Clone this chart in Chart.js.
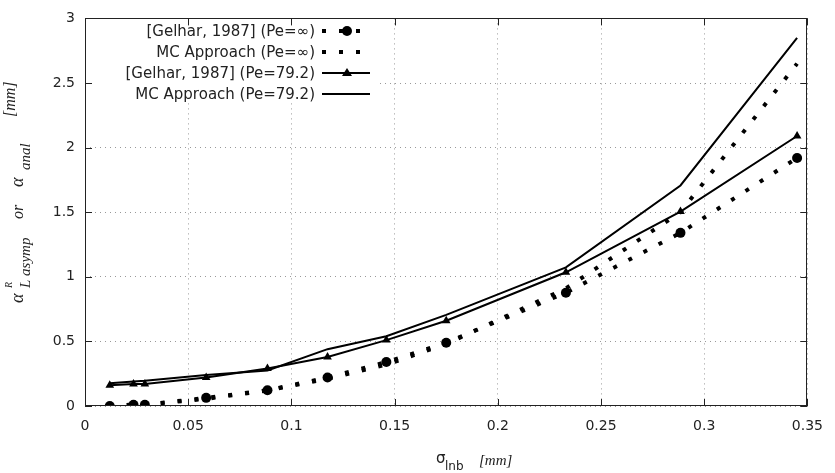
<!DOCTYPE html>
<html>
<head>
<meta charset="utf-8">
<script src="https://cdn.jsdelivr.net/npm/chart.js@4.4.1/dist/chart.umd.min.js"></script>
<style>
  html, body { margin: 0; padding: 0; background: #fff; }
  #wrap { width: 835px; height: 473px; }
</style>
</head>
<body>
<div id="wrap"><canvas id="grafica"></canvas></div>
<script>
// ===== Datos =====
const sigmaLnb = [0.012, 0.0235, 0.029, 0.0587, 0.0884, 0.1175, 0.146, 0.175, 0.233, 0.2885, 0.345];
const gelharInf = [0, 0.01, 0.01, 0.063, 0.122, 0.22, 0.34, 0.49, 0.877, 1.34, 1.92];
const mcInf = [0, 0.01, 0.01, 0.055, 0.12, 0.21, 0.32, 0.48, 0.91, 1.5, 2.65];
const gelhar79 = [0.16, 0.17, 0.17, 0.22, 0.29, 0.38, 0.51, 0.66, 1.035, 1.505, 2.09];
const mc79 = [0.177, 0.19, 0.195, 0.24, 0.275, 0.44, 0.54, 0.705, 1.073, 1.707, 2.85];

const etiquetas = [
  "[Gelhar, 1987] (Pe=\u221e)",
  "MC Approach (Pe=\u221e)",
  "[Gelhar, 1987] (Pe=79.2)",
  "MC Approach (Pe=79.2)"
];

const xTicks = [0, 0.05, 0.1, 0.15, 0.2, 0.25, 0.3, 0.35];
const xTickLabels = ["0", "0.05", "0.1", "0.15", "0.2", "0.25", "0.3", "0.35"];
const yTicks = [0, 0.5, 1, 1.5, 2, 2.5, 3];
const yTickLabels = ["0", "0.5", "1", "1.5", "2", "2.5", "3"];

function puntos(ys) {
  return sigmaLnb.map((x, i) => ({ x: x, y: ys[i] }));
}

const PUNTEADO = [4, 13];
const SERIF = "'Liberation Serif', 'DejaVu Serif', serif";
const SANS = "'DejaVu Sans', sans-serif";

// ===== Decoración estilo gnuplot =====
const decoracion = {
  id: "decoracion",
  beforeDatasetsDraw(chart) {
    const ctx = chart.ctx;
    // fondo opaco de la leyenda
    ctx.save();
    ctx.fillStyle = "#fff";
    ctx.fillRect(86, 13, 290, 90);
    ctx.restore();
  },
  afterDraw(chart) {
    const ctx = chart.ctx;
    const a = chart.chartArea;
    const sx = chart.scales.x, sy = chart.scales.y;
    ctx.save();

    // marco
    ctx.strokeStyle = "#222";
    ctx.lineWidth = 1;
    ctx.strokeRect(Math.round(a.left) + 0.5, Math.round(a.top) + 0.5,
      Math.round(a.right - a.left) - 1, Math.round(a.bottom - a.top) - 1);

    // marcas hacia adentro
    const t = 7;
    ctx.beginPath();
    xTicks.forEach(v => {
      const px = Math.round(sx.getPixelForValue(v)) + 0.5;
      ctx.moveTo(px, a.bottom); ctx.lineTo(px, a.bottom - t);
      ctx.moveTo(px, a.top); ctx.lineTo(px, a.top + t);
    });
    yTicks.forEach(v => {
      const py = Math.round(sy.getPixelForValue(v)) + 0.5;
      ctx.moveTo(a.left, py); ctx.lineTo(a.left + t, py);
      ctx.moveTo(a.right, py); ctx.lineTo(a.right - t, py);
    });
    ctx.stroke();

    // leyenda
    const filas = [31, 52, 73, 94];
    const x0 = 322, x1 = 370, xt = 315;
    ctx.font = "15px " + SANS;
    ctx.fillStyle = "#222";
    ctx.textAlign = "right";
    ctx.textBaseline = "middle";
    etiquetas.forEach((txt, i) => ctx.fillText(txt, xt, filas[i] + 1));

    ctx.strokeStyle = "#000";
    ctx.fillStyle = "#000";
    // fila 1: punteado + círculo
    ctx.lineWidth = 4;
    ctx.setLineDash(PUNTEADO);
    ctx.beginPath(); ctx.moveTo(x0, filas[0]); ctx.lineTo(x1 - 8, filas[0]); ctx.stroke();
    ctx.setLineDash([]);
    ctx.beginPath(); ctx.arc(347, filas[0], 5, 0, Math.PI * 2); ctx.fill();
    // fila 2: punteado
    ctx.setLineDash(PUNTEADO);
    ctx.beginPath(); ctx.moveTo(x0, filas[1]); ctx.lineTo(x1 - 8, filas[1]); ctx.stroke();
    ctx.setLineDash([]);
    // fila 3: sólida + triángulo
    ctx.lineWidth = 2;
    ctx.beginPath(); ctx.moveTo(x0, filas[2]); ctx.lineTo(x1, filas[2]); ctx.stroke();
    ctx.beginPath();
    ctx.moveTo(347, filas[2] - 5); ctx.lineTo(352, filas[2] + 3); ctx.lineTo(342, filas[2] + 3);
    ctx.closePath(); ctx.fill();
    // fila 4: sólida
    ctx.beginPath(); ctx.moveTo(x0, filas[3]); ctx.lineTo(x1, filas[3]); ctx.stroke();

    // título eje y (rotado); u = distancia desde y=303 hacia arriba
    ctx.save();
    ctx.translate(23, 303);
    ctx.rotate(-Math.PI / 2);
    ctx.textAlign = "left";
    ctx.textBaseline = "alphabetic";
    ctx.fillStyle = "#222";
    const pieza = (txt, size, u, v) => {
      ctx.font = "italic " + size + "px " + SERIF;
      ctx.fillText(txt, u, v);
    };
    pieza("\u03b1", 18, 0, 0);
    pieza("R", 10, 15, -11);
    pieza("L asymp", 15, 15, 7);
    pieza("or", 16, 84, 0);
    pieza("\u03b1", 18, 116, 0);
    pieza("anal", 15, 133, 7);
    pieza("[mm]", 16, 186, -8);
    ctx.restore();

    // título eje x
    ctx.textAlign = "left";
    ctx.textBaseline = "alphabetic";
    ctx.fillStyle = "#222";
    ctx.font = "15px " + SANS;
    ctx.fillText("\u03c3", 436, 463);
    ctx.font = "12px " + SANS;
    ctx.fillText("lnb", 445, 470);
    ctx.font = "italic 15px " + SERIF;
    ctx.fillText("[mm]", 479, 465);

    ctx.restore();
  }
};

// ===== Gráfica =====
const grafica = new Chart(document.getElementById("grafica"), {
  type: "scatter",
  data: {
    datasets: [
      {
        label: etiquetas[1],
        data: puntos(mcInf),
        showLine: true,
        borderColor: "#000",
        borderWidth: 4,
        borderDash: PUNTEADO,
        pointRadius: 0
      },
      {
        label: etiquetas[0],
        data: puntos(gelharInf),
        showLine: true,
        borderColor: "#000",
        backgroundColor: "#000",
        borderWidth: 4,
        borderDash: PUNTEADO,
        pointStyle: "circle",
        pointRadius: 5,
        pointBorderWidth: 0
      },
      {
        label: etiquetas[2],
        data: puntos(gelhar79),
        showLine: true,
        borderColor: "#000",
        backgroundColor: "#000",
        borderWidth: 2,
        pointStyle: "triangle",
        pointRadius: 5,
        pointBorderWidth: 0
      },
      {
        label: etiquetas[3],
        data: puntos(mc79),
        showLine: true,
        borderColor: "#000",
        borderWidth: 2,
        pointRadius: 0
      }
    ]
  },
  options: {
    responsive: true,
    maintainAspectRatio: false,
    animation: false,
    layout: { padding: { top: 12, right: 20, left: 0, bottom: 0 } },
    plugins: {
      legend: { display: false },
      tooltip: { enabled: false }
    },
    scales: {
      x: {
        type: "linear",
        min: 0,
        max: 0.35,
        afterBuildTicks: s => { s.ticks = xTicks.map(v => ({ value: v })); },
        afterFit: s => { s.height = 67; },
        ticks: {
          callback: (v, i) => xTickLabels[i],
          color: "#222",
          font: { family: SANS, size: 14 },
          padding: 12,
          maxRotation: 0,
          autoSkip: false
        },
        grid: { color: "#999", lineWidth: 1, drawTicks: false },
        border: { display: false, dash: [1, 4] }
      },
      y: {
        type: "linear",
        min: 0,
        max: 3,
        afterBuildTicks: s => { s.ticks = yTicks.map(v => ({ value: v })); },
        afterFit: s => { s.width = 85; },
        ticks: {
          callback: (v, i) => yTickLabels[i],
          color: "#222",
          font: { family: SANS, size: 14 },
          padding: 10
        },
        grid: { color: "#999", lineWidth: 1, drawTicks: false },
        border: { display: false, dash: [1, 4] }
      }
    }
  },
  plugins: [decoracion]
});
</script>
</body>
</html>
